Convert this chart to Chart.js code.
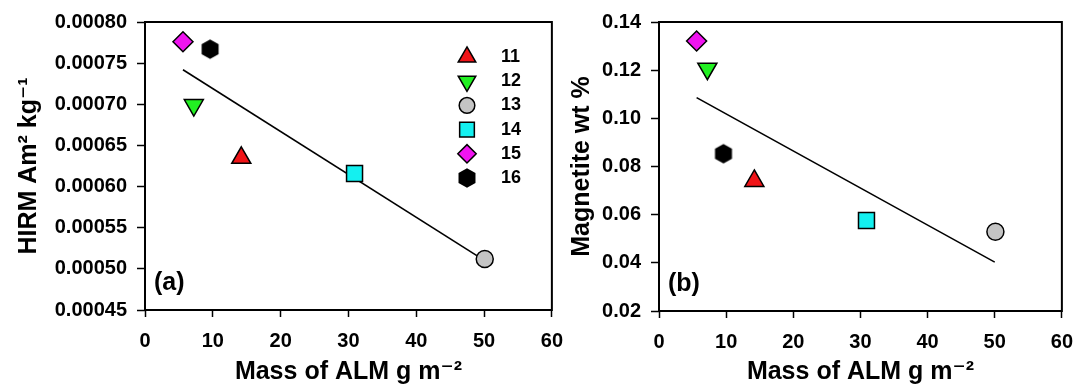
<!DOCTYPE html>
<html>
<head>
<meta charset="utf-8">
<script src="https://cdn.jsdelivr.net/npm/chart.js@4.4.1/dist/chart.umd.min.js"></script>
<style>
  body { margin: 0; background: #fff; }
  #wrap { position: relative; width: 1085px; height: 391px; overflow: hidden; }
  canvas { position: absolute; top: 0; }
  #hirmChart { left: 0; }
  #magChart { left: 563px; }
</style>
</head>
<body>
<div id="wrap">
  <canvas id="hirmChart" width="575" height="391"></canvas>
  <canvas id="magChart" width="522" height="391"></canvas>
</div>
<script>
// sites and measurements
const sites = ['11', '12', '13', '14', '15', '16'];
const almMass = [14.2, 7.2, 50.1, 30.9, 5.6, 9.6];
const hirm = [0.000635, 0.000699, 0.000512, 0.000616, 0.000776, 0.000767];
const magnetite = [0.074, 0.1206, 0.0529, 0.0576, 0.1321, 0.0853];

// regression line end points
const hirmFit = [[5.6, 0.000742], [50.1, 0.000510]];
const magFit = [[5.6, 0.1086], [50.0, 0.0403]];

// axis ticks
const xTicks = [0, 10, 20, 30, 40, 50, 60];
const hirmTicks = [0.00045, 0.00050, 0.00055, 0.00060, 0.00065, 0.00070, 0.00075, 0.00080];
const magTicks = [0.02, 0.04, 0.06, 0.08, 0.10, 0.12, 0.14];

const FONT = "'Liberation Sans', Arial, 'DejaVu Sans', sans-serif";
const H = 391;

function hexagon(size, r) {
  const c = document.createElement('canvas');
  c.width = c.height = size;
  const g = c.getContext('2d');
  g.beginPath();
  for (let i = 0; i < 6; i++) {
    const a = -Math.PI / 2 + i * Math.PI / 3;
    const px = size / 2 + r * Math.cos(a), py = size / 2 + r * Math.sin(a);
    if (i === 0) g.moveTo(px, py); else g.lineTo(px, py);
  }
  g.closePath();
  g.fillStyle = '#000';
  g.fill();
  return c;
}

const markers = [
  { style: 'triangle', radius: 11, rotation: 0, fill: '#f01418' },
  { style: 'triangle', radius: 11, rotation: 180, fill: '#22f022' },
  { style: 'circle', radius: 8.5, rotation: 0, fill: '#c4c4c4' },
  { style: 'rect', radius: 11.3, rotation: 0, fill: '#14f0f0' },
  { style: 'rectRot', radius: 10, rotation: 0, fill: '#f014f0' },
  { style: hexagon(22, 9.8), radius: 9, rotation: 0, fill: '#000' }
];

function panelPlugin(tag, showLegend) {
  return {
    id: 'panel',
    beforeDatasetsDraw(chart) {
      const { ctx, chartArea: a } = chart;
      ctx.save();
      ctx.strokeStyle = '#000';
      ctx.lineWidth = 2;
      ctx.strokeRect(a.left, a.top, a.right - a.left, a.bottom - a.top);
      ctx.restore();
    },
    afterDatasetsDraw(chart) {
      const { ctx, chartArea: a } = chart;
      ctx.save();
      ctx.fillStyle = '#000';
      ctx.font = 'bold 25px ' + FONT;
      ctx.textBaseline = 'middle';
      ctx.textAlign = 'left';
      ctx.fillText(tag, a.left + 9, a.bottom - 27);
      if (showLegend) {
        ctx.font = 'bold 18px ' + FONT;
        sites.forEach((s, i) => {
          const m = markers[i];
          const y = a.top + 35 + i * 24.2;
          ctx.fillStyle = m.fill;
          ctx.strokeStyle = '#000';
          ctx.lineWidth = 1.5;
          Chart.helpers.drawPoint(ctx, {
            pointStyle: m.style, radius: m.radius * 0.92, rotation: m.rotation, borderWidth: 1.5
          }, a.left + 322, y);
          ctx.fillStyle = '#000';
          ctx.fillText(s, a.left + 356, y);
        });
      }
      ctx.restore();
    }
  };
}

function buildChart(id, values, fit, yTicks, decimals, yTitle, opts) {
  const datasets = sites.map((s, i) => ({
    label: s,
    data: [{ x: almMass[i], y: values[i] }],
    pointStyle: markers[i].style,
    pointRadius: markers[i].radius,
    pointRotation: markers[i].rotation,
    pointBackgroundColor: markers[i].fill,
    pointBorderColor: '#000',
    pointBorderWidth: 1.5,
    showLine: false
  }));
  datasets.push({
    type: 'line',
    label: 'fit',
    data: fit.map(p => ({ x: p[0], y: p[1] })),
    borderColor: '#000',
    borderWidth: 1.6,
    pointRadius: 0,
    fill: false
  });

  return new Chart(document.getElementById(id), {
    type: 'scatter',
    data: { datasets },
    options: {
      responsive: false,
      animation: false,
      layout: { padding: { left: 0, top: 22, right: opts.padRight, bottom: 0 } },
      plugins: { legend: { display: false }, tooltip: { enabled: false } },
      scales: {
        x: {
          type: 'linear',
          min: 0,
          max: 60,
          afterBuildTicks: s => { s.ticks = xTicks.map(v => ({ value: v })); },
          afterFit: s => { s.height = H - opts.bottom; },
          grid: { drawOnChartArea: false, color: '#000', tickColor: '#000', tickLength: 7, tickWidth: 1.5 },
          border: { display: false },
          ticks: { color: '#000', font: { family: FONT, size: 20, weight: 'bold' }, padding: 12, maxRotation: 0, autoSkip: false },
          title: {
            display: true, text: 'Mass of ALM g m⁻²', color: '#000',
            font: { family: FONT, size: 25, weight: 'bold' }, padding: { top: 0, bottom: 4 }
          }
        },
        y: {
          type: 'linear',
          min: yTicks[0],
          max: yTicks[yTicks.length - 1],
          afterBuildTicks: s => { s.ticks = yTicks.map(v => ({ value: v })); },
          afterFit: s => { s.width = opts.yWidth; },
          grid: { drawOnChartArea: false, color: '#000', tickColor: '#000', tickLength: 8, tickWidth: 1.5 },
          border: { display: false },
          ticks: {
            color: '#000', font: { family: FONT, size: 20, weight: 'bold' }, padding: 10, autoSkip: false,
            callback: v => Number(v).toFixed(decimals)
          },
          title: {
            display: true, text: yTitle, color: '#000',
            font: { family: FONT, size: 25, weight: 'bold' }, padding: { top: opts.titlePad, bottom: 0 }
          }
        }
      }
    },
    plugins: [panelPlugin(opts.tag, opts.legend)]
  });
}

buildChart('hirmChart', hirm, hirmFit, hirmTicks, 5, 'HIRM Am² kg⁻¹',
  { yWidth: 145, padRight: 18, bottom: 310, titlePad: 14, tag: '(a)', legend: true });
buildChart('magChart', magnetite, magFit, magTicks, 2, 'Magnetite wt %',
  { yWidth: 96, padRight: 16, bottom: 311, titlePad: 4, tag: '(b)', legend: false });
</script>
</body>
</html>
